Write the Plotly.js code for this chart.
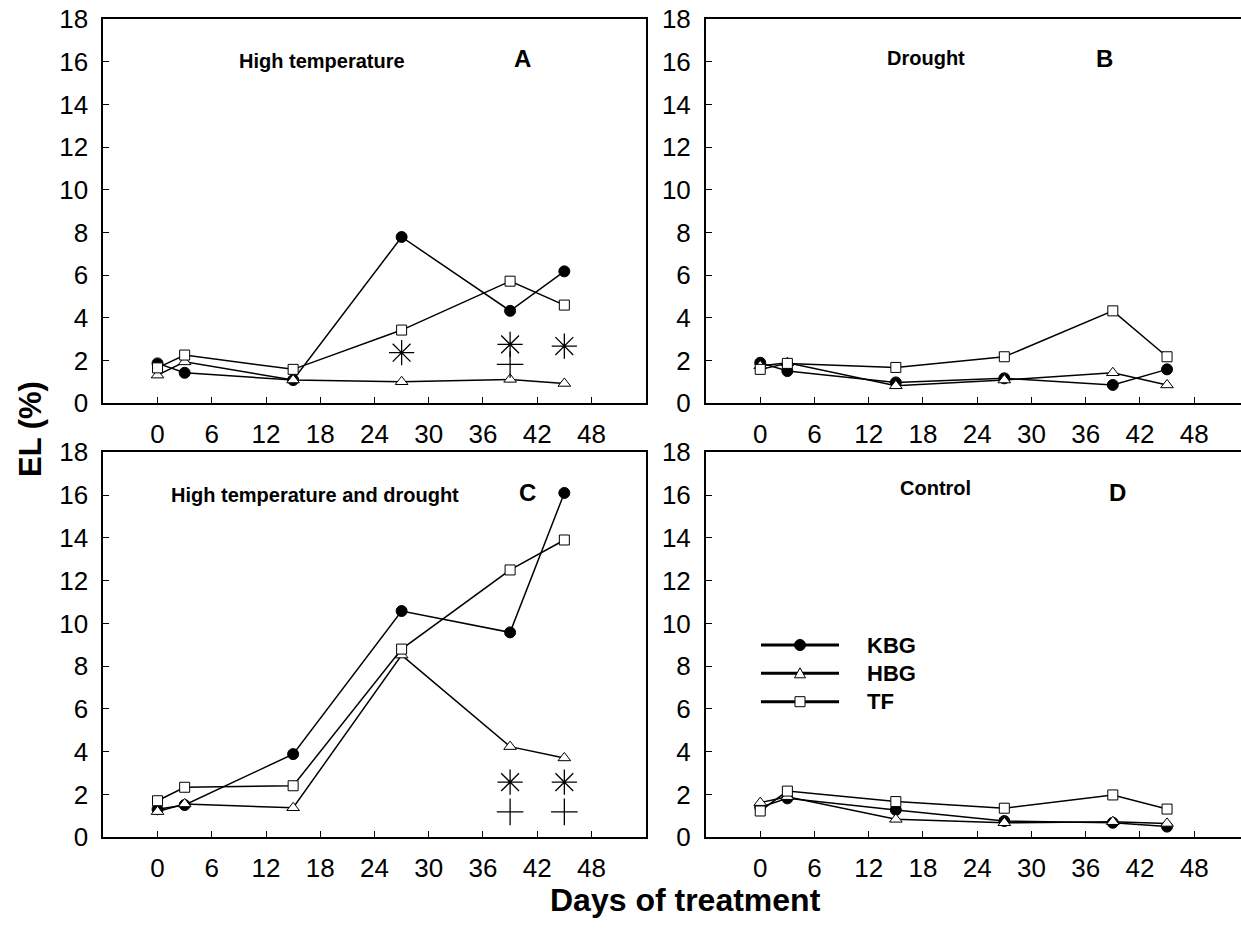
<!DOCTYPE html>
<html>
<head>
<meta charset="utf-8">
<script src="https://cdn.plot.ly/plotly-3.0.1.min.js"></script>
<style>html,body{margin:0;padding:0;background:#fff;}#chart{width:1241px;height:930px;}</style>
</head>
<body>
<div id="chart"></div>
<script>
// ---- data ----
const days = [0, 3, 15, 27, 39, 45];
const xTicks = [0, 6, 12, 18, 24, 30, 36, 42, 48];
const yTicks = [0, 2, 4, 6, 8, 10, 12, 14, 16, 18];
const seriesNames = ["KBG", "HBG", "TF"];

// A: High temperature
const kbgA = [1.87, 1.43, 1.09, 7.79, 4.33, 6.18];
const hbgA = [1.32, 1.94, 1.09, 1.01, 1.12, 0.93];
const tfA  = [1.66, 2.26, 1.59, 3.43, 5.72, 4.60];
// B: Drought
const kbgB = [1.90, 1.51, 0.98, 1.17, 0.86, 1.59];
const hbgB = [1.75, 1.90, 0.82, 1.09, 1.43, 0.86];
const tfB  = [1.59, 1.87, 1.68, 2.18, 4.33, 2.18];
// C: High temperature and drought
const kbgC = [1.31, 1.51, 3.89, 10.58, 9.58, 16.10];
const hbgC = [1.20, 1.56, 1.38, 8.52, 4.24, 3.71];
const tfC  = [1.71, 2.34, 2.41, 8.80, 12.50, 13.90];
// D: Control
const kbgD = [1.40, 1.82, 1.28, 0.76, 0.68, 0.50];
const hbgD = [1.62, 1.90, 0.84, 0.68, 0.73, 0.65];
const tfD  = [1.23, 2.16, 1.67, 1.36, 1.98, 1.32];

// significance markers
const starAx = [27, 39, 45], starAy = [2.37, 2.76, 2.68];
const plusAx = [39], plusAy = [1.82];
const starCx = [39, 45], starCy = [2.58, 2.58];
const plusCx = [39, 45], plusCy = [1.19, 1.19];

const panelTitles = ["High temperature", "Drought", "High temperature and drought", "Control"];
const panelLetters = ["A", "B", "C", "D"];
const xTitle = "Days of treatment";
const yTitle = "EL (%)";

// ---- layout helpers ----
const W = 1241, H = 930;
const px = x => x / W;
const py = y => 1 - y / H;
const FONT = "Liberation Sans, Arial, sans-serif";

const styles = [
  {symbol: "circle", size: 11, color: "black", line: {color: "black", width: 1}},
  {symbol: "triangle-up", size: 11, color: "white", line: {color: "black", width: 1}},
  {symbol: "square", size: 10, color: "white", line: {color: "black", width: 1}}
];

const panels = [
  {xa: "x", ya: "y", data: [kbgA, hbgA, tfA]},
  {xa: "x2", ya: "y2", data: [kbgB, hbgB, tfB]},
  {xa: "x3", ya: "y3", data: [kbgC, hbgC, tfC]},
  {xa: "x4", ya: "y4", data: [kbgD, hbgD, tfD]}
];

const traces = [];
panels.forEach(p => {
  p.data.forEach((vals, i) => {
    traces.push({
      x: days, y: vals, xaxis: p.xa, yaxis: p.ya, name: seriesNames[i],
      type: "scatter", mode: "lines+markers", showlegend: false, cliponaxis: false,
      line: {color: "black", width: 1.5},
      marker: styles[i]
    });
  });
});
function sig(x, y, xa, ya, sym, size) {
  traces.push({x: x, y: y, xaxis: xa, yaxis: ya, type: "scatter", mode: "markers",
    showlegend: false, hoverinfo: "skip",
    marker: {symbol: sym, size: size, color: "black", line: {color: "black", width: 1.3}}});
}
sig(starAx, starAy, "x", "y", "asterisk-open", 21);
sig(plusAx, plusAy, "x", "y", "cross-thin-open", 19);
sig(starCx, starCy, "x3", "y3", "asterisk-open", 21);
sig(plusCx, plusCy, "x3", "y3", "cross-thin-open", 19);

const leftDom = [px(103.3), px(645.7)];
const rightDom = [px(706), 1];
const topDom = [py(403.3), py(19)];
const botDom = [py(837.3), py(452.3)];

function xaxis(dom, anchor, right) {
  return {domain: dom, anchor: anchor, range: right ? [-6, -6 + 535 / 9.04] : [-6, 54],
    tickmode: "array", tickvals: xTicks, ticktext: xTicks.map(String),
    ticks: "inside", ticklen: 6, tickwidth: 1, tickcolor: "black",
    showline: true, linewidth: 2, linecolor: "black", mirror: true,
    showgrid: false, zeroline: false, ticklabelstandoff: 6,
    tickfont: {family: FONT, size: 26, color: "black"}};
}
function yaxis(dom, anchor, right) {
  return {domain: dom, anchor: anchor, range: [0, 18],
    tickmode: "array", tickvals: yTicks, ticktext: yTicks.map(String),
    ticks: "inside", ticklen: 6, tickwidth: 1, tickcolor: "black",
    showline: true, linewidth: 2, linecolor: "black", mirror: right ? false : true,
    showgrid: false, zeroline: false, ticklabelstandoff: 8,
    tickfont: {family: FONT, size: 26, color: "black"}};
}

const ann = [];
function txt(x, y, t, size) {
  ann.push({xref: "paper", yref: "paper", x: px(x), y: py(y), text: t, showarrow: false,
    xanchor: "center", yanchor: "middle",
    font: {family: FONT, size: size, color: "black", weight: "bold"}});
}
txt(322, 61, "<b>" + panelTitles[0] + "</b>", 20);
txt(926, 58, "<b>" + panelTitles[1] + "</b>", 20);
txt(315, 495, "<b>" + panelTitles[2] + "</b>", 20);
txt(935, 488, "<b>" + panelTitles[3] + "</b>", 20);
txt(522, 58, "<b>" + panelLetters[0] + "</b>", 24);
txt(1104, 58, "<b>" + panelLetters[1] + "</b>", 24);
txt(527, 492, "<b>" + panelLetters[2] + "</b>", 24);
txt(1117, 492, "<b>" + panelLetters[3] + "</b>", 24);
txt(685, 900, "<b>" + xTitle + "</b>", 32);
ann.push({xref: "paper", yref: "paper", x: px(30), y: py(429), text: "<b>" + yTitle + "</b>",
  showarrow: false, textangle: -90, xanchor: "center", yanchor: "middle",
  font: {family: FONT, size: 31, color: "black", weight: "bold"}});

// legend (panel D)
const legY = [645, 673.3, 701.7];
const shapes = [];
legY.forEach((y, i) => {
  shapes.push({type: "line", xref: "paper", yref: "paper", x0: px(761), x1: px(839), y0: py(y), y1: py(y),
    line: {color: "black", width: 3}});
  ann.push({xref: "paper", yref: "paper", x: px(865), y: py(y), text: "<b>" + seriesNames[i] + "</b>",
    showarrow: false, xanchor: "left", yanchor: "middle",
    font: {family: FONT, size: 22, color: "black", weight: "bold"}});
});
// legend symbols
shapes.push({type: "circle", xref: "paper", yref: "paper", x0: px(794.5), x1: px(805.5), y0: py(legY[0] + 5.5), y1: py(legY[0] - 5.5),
  fillcolor: "black", line: {color: "black", width: 1}});
shapes.push({type: "path", xref: "paper", yref: "paper",
  path: "M " + px(794.5) + " " + py(legY[1] + 4.5) + " L " + px(805.5) + " " + py(legY[1] + 4.5) + " L " + px(800) + " " + py(legY[1] - 5.5) + " Z",
  fillcolor: "white", line: {color: "black", width: 1}});
shapes.push({type: "rect", xref: "paper", yref: "paper", x0: px(795), x1: px(805), y0: py(legY[2] + 5), y1: py(legY[2] - 5),
  fillcolor: "white", line: {color: "black", width: 1}});

const layout = {
  width: W, height: H, margin: {l: 0, r: 0, t: 0, b: 0},
  paper_bgcolor: "white", plot_bgcolor: "white", showlegend: false,
  xaxis: xaxis(leftDom, "y", false), yaxis: yaxis(topDom, "x", false),
  xaxis2: xaxis(rightDom, "y2", true), yaxis2: yaxis(topDom, "x2", true),
  xaxis3: xaxis(leftDom, "y3", false), yaxis3: yaxis(botDom, "x3", false),
  xaxis4: xaxis(rightDom, "y4", true), yaxis4: yaxis(botDom, "x4", true),
  annotations: ann, shapes: shapes,
  font: {family: FONT, color: "black"}
};
Plotly.newPlot("chart", traces, layout, {staticPlot: true, displayModeBar: false});
</script>
</body>
</html>
